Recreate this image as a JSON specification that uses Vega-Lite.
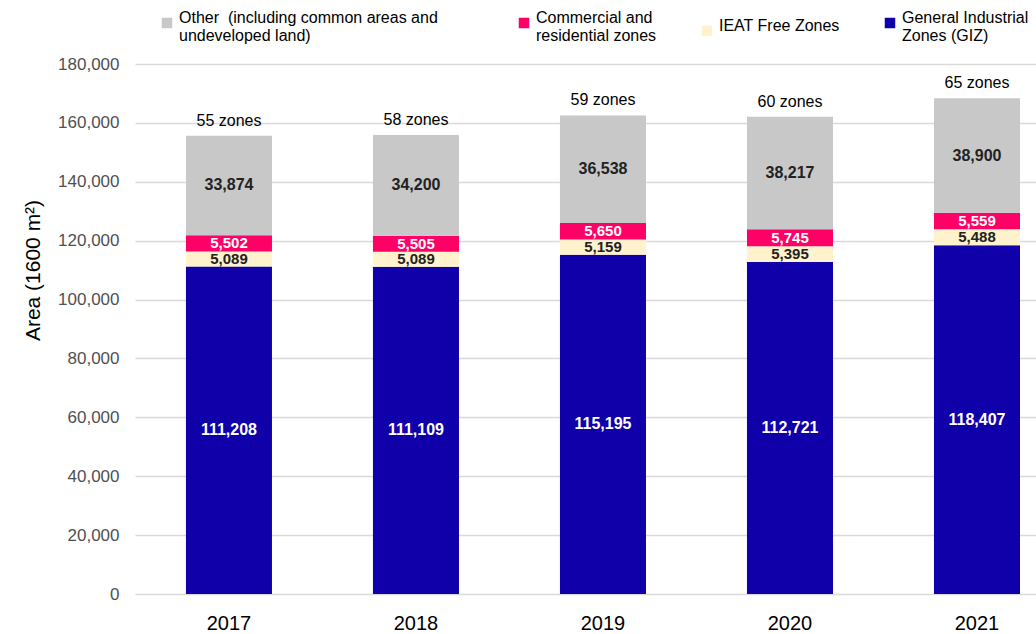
{
  "$schema": "https://vega.github.io/schema/vega-lite/v6.json",
  "autosize": {"type": "none"},
  "padding": {"left": 135, "top": 64, "right": 0, "bottom": 40},
  "width": 901,
  "height": 530,
  "background": "white",
  "config": {
    "font": "Liberation Sans",
    "view": {"stroke": null}
  },
  "data": {
    "values": [
      {"year": "2017", "series": "General Industrial Zones (GIZ)", "value": 111208, "zones": "55 zones"},
      {"year": "2017", "series": "IEAT Free Zones", "value": 5089, "zones": "55 zones"},
      {"year": "2017", "series": "Commercial and residential zones", "value": 5502, "zones": "55 zones"},
      {"year": "2017", "series": "Other (including common areas and undeveloped land)", "value": 33874, "zones": "55 zones"},
      {"year": "2018", "series": "General Industrial Zones (GIZ)", "value": 111109, "zones": "58 zones"},
      {"year": "2018", "series": "IEAT Free Zones", "value": 5089, "zones": "58 zones"},
      {"year": "2018", "series": "Commercial and residential zones", "value": 5505, "zones": "58 zones"},
      {"year": "2018", "series": "Other (including common areas and undeveloped land)", "value": 34200, "zones": "58 zones"},
      {"year": "2019", "series": "General Industrial Zones (GIZ)", "value": 115195, "zones": "59 zones"},
      {"year": "2019", "series": "IEAT Free Zones", "value": 5159, "zones": "59 zones"},
      {"year": "2019", "series": "Commercial and residential zones", "value": 5650, "zones": "59 zones"},
      {"year": "2019", "series": "Other (including common areas and undeveloped land)", "value": 36538, "zones": "59 zones"},
      {"year": "2020", "series": "General Industrial Zones (GIZ)", "value": 112721, "zones": "60 zones"},
      {"year": "2020", "series": "IEAT Free Zones", "value": 5395, "zones": "60 zones"},
      {"year": "2020", "series": "Commercial and residential zones", "value": 5745, "zones": "60 zones"},
      {"year": "2020", "series": "Other (including common areas and undeveloped land)", "value": 38217, "zones": "60 zones"},
      {"year": "2021", "series": "General Industrial Zones (GIZ)", "value": 118407, "zones": "65 zones"},
      {"year": "2021", "series": "IEAT Free Zones", "value": 5488, "zones": "65 zones"},
      {"year": "2021", "series": "Commercial and residential zones", "value": 5559, "zones": "65 zones"},
      {"year": "2021", "series": "Other (including common areas and undeveloped land)", "value": 38900, "zones": "65 zones"}
    ]
  },
  "transform": [
    {"calculate": "indexof(['General Industrial Zones (GIZ)', 'IEAT Free Zones', 'Commercial and residential zones', 'Other (including common areas and undeveloped land)'], datum.series)", "as": "stackRank"}
  ],
  "encoding": {
    "x": {
      "field": "year",
      "type": "nominal",
      "scale": {"type": "band", "paddingInner": 0.54, "paddingOuter": 0.179, "align": 0.761},
      "axis": {
        "title": null,
        "labelAngle": 0,
        "labelFontSize": 20,
        "labelColor": "#000000",
        "labelPadding": 19,
        "ticks": false,
        "domain": false,
        "grid": false
      }
    }
  },
  "layer": [
    {
      "mark": {"type": "bar"},
      "encoding": {
        "y": {
          "field": "value",
          "type": "quantitative",
          "stack": "zero",
          "scale": {"domain": [0, 180000], "nice": false},
          "axis": {
            "title": "Area (1600 m²)",
            "titleFontSize": 21,
            "titleFontWeight": "normal",
            "titleColor": "#000000",
            "titleAngle": -90,
            "titleBaseline": "middle",
            "titleAlign": "center",
            "titleX": -102,
            "titleY": 206,
            "values": [0, 20000, 40000, 60000, 80000, 100000, 120000, 140000, 160000, 180000],
            "format": ",d",
            "labelFontSize": 17,
            "labelColor": "#505050",
            "labelPadding": 16,
            "ticks": false,
            "domain": false,
            "grid": true,
            "gridColor": "#DADADA",
            "gridWidth": 1.5
          }
        },
        "order": {"field": "stackRank", "type": "quantitative", "sort": "ascending"},
        "color": {
          "field": "series",
          "type": "nominal",
          "scale": {
            "domain": ["Other (including common areas and undeveloped land)", "Commercial and residential zones", "IEAT Free Zones", "General Industrial Zones (GIZ)"],
            "range": ["#C8C8C8", "#FF0066", "#FFF2CC", "#0F00AA"]
          },
          "legend": {
            "orient": "none",
            "legendX": 24,
            "legendY": -49,
            "direction": "horizontal",
            "columns": 4,
            "columnPadding": 42,
            "title": null,
            "symbolType": "square",
            "symbolSize": 110,
            "symbolStrokeWidth": 0,
            "labelFontSize": 16,
            "labelColor": "#000000",
            "labelLimit": 500,
            "labelOffset": 4,
            "labelBaseline": "alphabetic",
            "labelExpr": "datum.label == 'General Industrial Zones (GIZ)' ? ['General Industrial', 'Zones (GIZ)'] : datum.label == 'Commercial and residential zones' ? ['Commercial and', 'residential zones'] : datum.label == 'IEAT Free Zones' ? 'IEAT Free Zones' : ['Other\u00a0\u00a0(including common areas and\u00a0\u00a0\u00a0\u00a0\u00a0\u00a0\u00a0\u00a0\u200b', 'undeveloped land)']"
          }
        }
      }
    },
    {
      "mark": {"type": "text", "fontWeight": "bold", "baseline": "middle", "align": "center"},
      "encoding": {
        "y": {"field": "value", "type": "quantitative", "stack": "zero", "bandPosition": 0.5},
        "order": {"field": "stackRank", "type": "quantitative", "sort": "ascending"},
        "text": {"field": "value", "type": "quantitative", "format": ","},
        "color": {
          "field": "series",
          "type": "nominal",
          "scale": {
            "domain": ["Other (including common areas and undeveloped land)", "Commercial and residential zones", "IEAT Free Zones", "General Industrial Zones (GIZ)"],
            "range": ["#222222", "#FFFFFF", "#222222", "#FFFFFF"]
          },
          "legend": null
        },
        "size": {
          "condition": {"test": "datum.series == 'IEAT Free Zones' || datum.series == 'Commercial and residential zones'", "value": 15},
          "value": 16
        }
      }
    },
    {
      "transform": [
        {"aggregate": [{"op": "sum", "field": "value", "as": "total"}], "groupby": ["year", "zones"]}
      ],
      "mark": {"type": "text", "fontSize": 16, "color": "#000000", "baseline": "alphabetic", "dy": -10},
      "encoding": {
        "y": {"field": "total", "type": "quantitative"},
        "text": {"field": "zones", "type": "nominal"}
      }
    }
  ],
  "resolve": {"scale": {"color": "independent"}}
}
